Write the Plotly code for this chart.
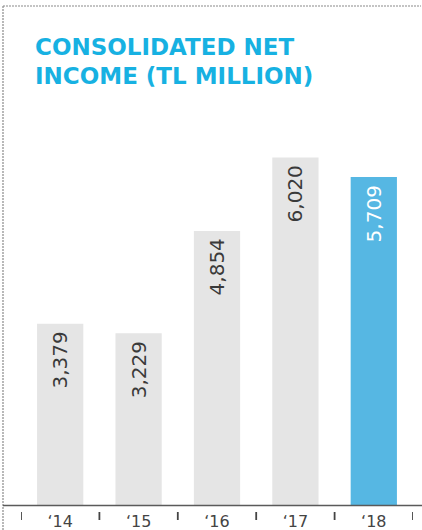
import plotly.graph_objects as go

# Consolidated net income, TL million
years = ["\u201814", "\u201815", "\u201816", "\u201817", "\u201818"]
income = [3379, 3229, 4854, 6020, 5709]
labels = ["3,379", "3,229", "4,854", "6,020", "5,709"]

bar_colors = ["#e5e5e5", "#e5e5e5", "#e5e5e5", "#e5e5e5", "#56b7e3"]
text_colors = ["#3a3a3a", "#3a3a3a", "#3a3a3a", "#3a3a3a", "#ffffff"]

W, H = 422, 530
L, R, T, B = 21, 9, 110, 25
PW, PH = W - L - R, H - T - B


def px_x(x):
    return (x - L) / PW


def px_y(y):
    return (H - B - y) / PH


fig = go.Figure(
    go.Bar(
        x=years,
        y=income,
        width=0.59,
        marker=dict(color=bar_colors, line=dict(width=0)),
        hoverinfo="skip",
    )
)

shapes = [
    # dotted frame (top and left edges)
    dict(type="line", xref="paper", yref="paper",
         x0=px_x(3), x1=px_x(421), y0=px_y(6), y1=px_y(6),
         line=dict(color="#8a8a8a", width=1.2, dash="2px,1px")),
    dict(type="line", xref="paper", yref="paper",
         x0=px_x(3), x1=px_x(3), y0=px_y(6), y1=px_y(530),
         line=dict(color="#8a8a8a", width=1.2, dash="2px,1px")),
    # baseline
    dict(type="line", xref="paper", yref="paper",
         x0=px_x(3), x1=px_x(422), y0=px_y(505.5), y1=px_y(505.5),
         line=dict(color="#5a5a5a", width=1.5)),
]
# separators between the year labels
for i in range(len(years) + 1):
    shapes.append(dict(type="line", xref="x", yref="paper",
                       x0=i - 0.5, x1=i - 0.5, y0=px_y(512), y1=px_y(520),
                       line=dict(color="#444444", width=1.8)))

title_font = dict(family="DejaVu Sans", size=23, color="#17b1e2", weight="bold")
annotations = [
    dict(text="CONSOLIDATED NET", xref="paper", yref="paper",
         x=px_x(33), y=px_y(47), xanchor="left", yanchor="middle",
         showarrow=False, font=title_font),
    dict(text="INCOME (TL MILLION)", xref="paper", yref="paper",
         x=px_x(33), y=px_y(76), xanchor="left", yanchor="middle",
         showarrow=False, font=title_font),
]

# value labels, rotated, just inside the top of each bar
for yr, val, lab, col in zip(years, income, labels, text_colors):
    annotations.append(dict(
        x=yr, y=val, xref="x", yref="y", text=lab, textangle=-90,
        xanchor="center", yanchor="top", yshift=-6, showarrow=False,
        font=dict(family="DejaVu Sans", size=20, color=col),
    ))

fig.update_layout(
    width=W, height=H,
    margin=dict(l=L, r=R, t=T, b=B, pad=0, autoexpand=False),
    paper_bgcolor="white", plot_bgcolor="white",
    showlegend=False,
    shapes=shapes,
    annotations=annotations,
    xaxis=dict(type="category", range=[-0.5, 4.5], showline=False,
               showgrid=False, zeroline=False, ticks="", automargin=False,
               ticklabelstandoff=5,
               tickfont=dict(family="DejaVu Sans", size=16, color="#444444"),
               fixedrange=True),
    yaxis=dict(range=[500, 6775], visible=False, showgrid=False,
               zeroline=False, automargin=False, fixedrange=True),
)

fig.write_html("out.html", config={"displayModeBar": False})
